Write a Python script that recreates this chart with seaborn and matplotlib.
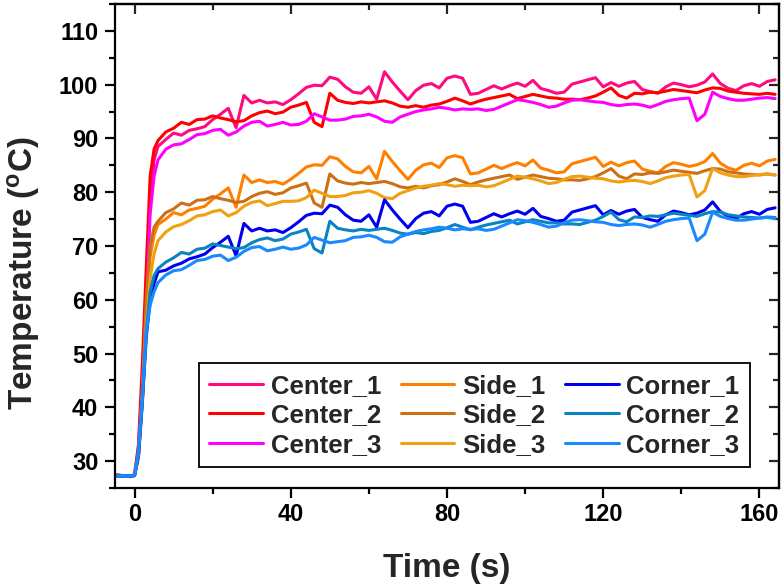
import matplotlib
matplotlib.use("Agg")
import matplotlib.pyplot as plt
from matplotlib.lines import Line2D
from matplotlib.ticker import MultipleLocator
import pandas as pd
import seaborn as sns

# time axis (s): finer steps through the heating ramp, then every 2 s
time_s = [-5, -3, -1, 0, 1, 2, 3, 4, 5, 6] + list(range(8, 165, 2))

center_1 = [27.5, 27.3, 27.2, 27.4, 32.0, 45.0, 62.0, 78.0, 86.0, 88.5,
            89.8, 91.0, 90.6, 91.5, 91.8, 92.2, 93.5, 94.5, 95.6, 92.0,
            98.0, 96.6, 97.1, 96.6, 96.8, 96.3, 97.2, 98.3, 99.5, 99.9,
            99.8, 101.4, 101.0, 99.6, 98.6, 98.4, 99.6, 97.3, 102.4, 100.5,
            98.8, 97.2, 98.9, 99.9, 100.2, 99.4, 101.2, 101.6, 101.2, 98.2,
            98.4, 99.1, 99.8, 99.2, 99.8, 100.3, 99.7, 100.8, 99.3, 98.9,
            98.4, 98.6, 100.1, 100.5, 100.9, 101.3, 99.6, 100.4, 99.7, 100.3,
            100.6, 99.1, 98.7, 98.4, 99.6, 100.3, 100.0, 99.6, 99.9, 100.5,
            102.0, 100.2, 99.3, 98.9, 99.8, 100.2, 99.7, 100.6, 100.9]
center_2 = [27.4, 27.3, 27.2, 27.5, 33.0, 48.0, 66.0, 83.0, 88.0, 89.6,
            91.2, 91.9, 93.0, 92.6, 93.5, 93.6, 94.2, 93.8, 93.5, 93.1,
            93.3, 94.2, 94.8, 95.1, 94.6, 94.9, 95.8, 96.2, 96.7, 93.0,
            92.2, 98.4, 97.1, 96.7, 96.5, 96.8, 96.6, 96.8, 97.0, 96.6,
            96.0, 95.8, 96.1, 95.8, 96.2, 96.4, 96.9, 97.5, 97.0, 96.4,
            96.9, 97.3, 97.6, 97.9, 98.2, 97.4, 97.8, 98.2, 97.9, 97.6,
            97.5, 97.3, 97.3, 97.2, 97.5, 97.9, 98.6, 99.4, 98.0, 97.5,
            98.4, 98.3, 98.6, 98.5, 98.8, 99.1, 98.9, 98.7, 98.5, 99.0,
            99.4, 99.3, 98.8, 98.6, 98.4, 98.3, 98.2, 98.4, 98.2]
center_3 = [27.3, 27.2, 27.2, 27.4, 31.0, 43.0, 58.0, 76.0, 83.0, 86.0,
            88.0, 88.8, 89.0, 89.8, 90.7, 90.9, 91.5, 91.7, 90.6, 91.2,
            92.3, 93.0, 93.2, 92.3, 92.6, 93.0, 92.5, 92.6, 93.2, 94.6,
            94.0, 93.4, 93.4, 93.6, 94.1, 94.2, 94.5, 94.0, 93.2, 93.0,
            94.0, 94.5, 95.0, 95.3, 95.5, 95.8, 95.6, 95.3, 95.5, 95.4,
            95.5, 95.2, 95.4, 96.0, 96.6, 97.2, 97.0, 96.7, 96.3, 95.8,
            96.0, 96.6, 97.1, 97.2, 97.0, 96.8, 96.7, 96.3, 96.1, 96.3,
            96.4, 96.2, 95.8, 96.3, 96.9, 97.2, 97.4, 97.5, 93.3, 94.5,
            98.6, 97.8, 97.4, 97.1, 97.1, 97.3, 97.5, 97.6, 97.4]
side_1 = [27.4, 27.2, 27.1, 27.3, 31.0, 42.0, 57.0, 68.0, 72.0, 74.0,
          75.0, 76.2, 75.8, 76.7, 77.0, 77.4, 78.7, 79.7, 80.8, 77.2,
          83.2, 81.8, 82.3, 81.8, 82.0, 81.5, 82.4, 83.5, 84.7, 85.1,
          85.0, 86.6, 86.2, 84.8, 83.8, 83.6, 84.8, 82.5, 87.6, 85.7,
          84.0, 82.4, 84.1, 85.1, 85.4, 84.6, 86.4, 86.8, 86.4, 83.4,
          83.6, 84.3, 85.0, 84.4, 85.0, 85.5, 84.9, 86.0, 84.5, 84.1,
          83.6, 83.8, 85.3, 85.7, 86.1, 86.5, 84.8, 85.6, 84.9, 85.5,
          85.8, 84.3, 83.9, 83.6, 84.8, 85.5, 85.2, 84.8, 85.1, 85.7,
          87.2, 85.4, 84.5, 84.1, 85.0, 85.4, 84.9, 85.8, 86.1]
side_2 = [27.3, 27.2, 27.2, 27.4, 31.0, 43.0, 60.0, 70.0, 73.5, 74.6,
          76.2, 76.9, 78.0, 77.6, 78.5, 78.6, 79.2, 78.8, 78.5, 78.1,
          78.3, 79.2, 79.8, 80.1, 79.6, 79.9, 80.8, 81.2, 81.7, 78.0,
          77.2, 83.4, 82.1, 81.7, 81.5, 81.8, 81.6, 81.8, 82.0, 81.6,
          81.0, 80.8, 81.1, 80.8, 81.2, 81.4, 81.9, 82.5, 82.0, 81.4,
          81.9, 82.3, 82.6, 82.9, 83.2, 82.4, 82.8, 83.2, 82.9, 82.6,
          82.5, 82.3, 82.3, 82.2, 82.5, 82.9, 83.6, 84.4, 83.0, 82.5,
          83.4, 83.3, 83.6, 83.5, 83.8, 84.1, 83.9, 83.7, 83.5, 84.0,
          84.4, 84.3, 83.8, 83.6, 83.4, 83.3, 83.2, 83.4, 83.2]
side_3 = [27.3, 27.2, 27.1, 27.4, 30.5, 41.0, 55.0, 64.0, 68.5, 71.0,
          72.6, 73.6, 74.0, 74.7, 75.6, 75.8, 76.4, 76.7, 75.6, 76.2,
          77.4, 78.1, 78.4, 77.5, 77.9, 78.3, 78.3, 78.4, 79.0, 80.4,
          79.8, 79.2, 79.2, 79.4, 79.9, 80.0, 80.3, 79.8, 79.0, 78.8,
          79.8, 80.3, 80.8, 81.1, 81.3, 81.6, 81.4, 81.1, 81.3, 81.2,
          81.3, 81.0, 81.2, 81.8, 82.4, 83.0, 82.8, 82.5, 82.1, 81.6,
          81.8, 82.4, 82.9, 83.0, 82.8, 82.6, 82.5, 82.1, 81.9, 82.1,
          82.2, 82.0, 81.6, 82.1, 82.7, 83.0, 83.2, 83.3, 79.1, 80.3,
          84.4, 83.6, 83.2, 82.9, 82.9, 83.1, 83.3, 83.4, 83.2]
corner_1 = [27.3, 27.2, 27.2, 27.3, 31.0, 41.0, 53.0, 60.0, 63.0, 65.2,
            65.5, 66.3, 66.8, 67.6, 68.0, 68.5, 69.7, 70.7, 71.8, 68.2,
            74.2, 72.8, 73.3, 72.8, 73.0, 72.5, 73.4, 74.5, 75.7, 76.1,
            76.0, 77.6, 77.2, 75.8, 74.8, 74.6, 75.8, 73.5, 78.6, 76.7,
            75.0, 73.4, 75.1, 76.1, 76.4, 75.6, 77.4, 77.8, 77.4, 74.4,
            74.6, 75.3, 76.0, 75.4, 76.0, 76.5, 75.9, 77.0, 75.5, 75.1,
            74.6, 74.8, 76.3, 76.7, 77.1, 77.5, 75.8, 76.6, 75.9, 76.5,
            76.8, 75.3, 74.9, 74.6, 75.8, 76.5, 76.2, 75.8, 76.1, 76.7,
            78.2, 76.4, 75.5, 75.1, 76.0, 76.4, 75.9, 76.8, 77.1]
corner_2 = [27.4, 27.3, 27.2, 27.4, 31.0, 41.0, 54.0, 61.5, 64.5, 65.8,
            67.0, 67.8, 68.8, 68.5, 69.4, 69.6, 70.4, 70.1, 69.8, 69.5,
            69.7, 70.6, 71.2, 71.5, 71.0, 71.3, 72.2, 72.6, 73.1, 69.5,
            68.7, 74.6, 73.3, 73.0, 72.8, 73.1, 72.9, 73.1, 73.3, 72.9,
            72.4, 72.2, 72.5, 72.3, 72.7, 72.9, 73.4, 74.0, 73.5, 73.0,
            73.5, 73.9, 74.2, 74.5, 74.8, 74.1, 74.5, 74.9, 74.6, 74.3,
            74.3, 74.1, 74.1, 74.0, 74.4, 74.8, 75.5, 76.3, 74.9, 74.5,
            75.4, 75.3, 75.6, 75.5, 75.8, 76.1, 75.9, 75.7, 75.5, 76.0,
            76.4, 76.3, 75.8, 75.6, 75.4, 75.3, 75.2, 75.4, 75.3]
corner_3 = [27.3, 27.2, 27.2, 27.3, 32.0, 42.0, 54.0, 59.0, 61.5, 63.2,
            64.6, 65.4, 65.6, 66.4, 67.3, 67.5, 68.1, 68.3, 67.3, 67.9,
            69.0, 69.7, 69.9, 69.1, 69.4, 69.8, 69.4, 69.6, 70.2, 71.6,
            71.1, 70.6, 70.8, 71.0, 71.6, 71.7, 72.0, 71.6, 70.8, 70.7,
            71.7, 72.2, 72.7, 73.0, 73.2, 73.5, 73.3, 73.0, 73.2, 73.1,
            73.2, 72.9, 73.1, 73.7, 74.3, 74.9, 74.7, 74.4, 74.0, 73.5,
            73.7, 74.3, 74.8, 74.9, 74.7, 74.5, 74.4, 74.0, 73.8, 74.0,
            74.1, 73.9, 73.5, 74.0, 74.6, 74.9, 75.1, 75.2, 71.0, 72.2,
            76.3, 75.5, 75.1, 74.8, 74.8, 75.0, 75.2, 75.3, 75.1]

series = {
    "Center_1": center_1, "Center_2": center_2, "Center_3": center_3,
    "Side_1": side_1, "Side_2": side_2, "Side_3": side_3,
    "Corner_1": corner_1, "Corner_2": corner_2, "Corner_3": corner_3,
}
colors = {
    "Center_1": "#FF0A7F", "Center_2": "#FF0000", "Center_3": "#FF00FF",
    "Side_1": "#FF8000", "Side_2": "#CC7018", "Side_3": "#F0A010",
    "Corner_1": "#0000F0", "Corner_2": "#0A84C0", "Corner_3": "#1A88FF",
}
order = list(series.keys())

df = pd.concat(
    [pd.DataFrame({"Time": time_s, "Temperature": v, "Probe": k}) for k, v in series.items()],
    ignore_index=True,
)

sns.set_style("ticks")
plt.rcParams["font.family"] = ["Liberation Sans", "DejaVu Sans"]
plt.rcParams["font.weight"] = "bold"
plt.rcParams["mathtext.fontset"] = "custom"
plt.rcParams["mathtext.bf"] = "Liberation Sans:bold"
plt.rcParams["mathtext.rm"] = "Liberation Sans:bold"

fig = plt.figure(figsize=(7.81, 5.86), dpi=100)
ax = fig.add_axes([115 / 781, 1 - 488 / 586, 664 / 781, 484 / 586])

sns.lineplot(data=df, x="Time", y="Temperature", hue="Probe", hue_order=order,
             palette=colors, linewidth=2.2, errorbar=None, legend=False, ax=ax)

ax.set_xlim(-5, 165)
ax.set_ylim(25, 115)
ax.xaxis.set_major_locator(MultipleLocator(40))
ax.xaxis.set_minor_locator(MultipleLocator(20))
ax.yaxis.set_minor_locator(MultipleLocator(5))
ax.set_yticks(range(30, 111, 10))

for s in ax.spines.values():
    s.set_linewidth(1.6)
    s.set_color("black")
ax.tick_params(which="both", direction="out", width=1.6, colors="black",
               labelsize=17, top=False, right=False)
ax.tick_params(which="major", length=7)
ax.tick_params(which="minor", length=4)
ax.tick_params(axis="y", pad=5)

# inward ticks on top and right frame
top = ax.secondary_xaxis("top")
top.xaxis.set_major_locator(MultipleLocator(40))
top.xaxis.set_minor_locator(MultipleLocator(20))
top.tick_params(which="both", direction="in", width=1.6, labeltop=False)
top.tick_params(which="major", length=7)
top.tick_params(which="minor", length=4)
right = ax.secondary_yaxis("right")
right.yaxis.set_major_locator(MultipleLocator(10))
right.yaxis.set_minor_locator(MultipleLocator(5))
right.tick_params(which="both", direction="in", width=1.6, labelright=False)
right.tick_params(which="major", length=7)
right.tick_params(which="minor", length=4)
for sa in (top, right):
    for s in sa.spines.values():
        s.set_linewidth(1.6)

ax.set_xlabel("Time (s)", fontsize=24, fontweight="bold", labelpad=20)
ax.set_ylabel(r"Temperature ($\mathbf{^{o}}$C)", fontsize=24, fontweight="bold")
ax.yaxis.set_label_coords(-0.110, 0.444)

handles = [Line2D([0], [0], color=colors[k], lw=2.2) for k in order]
leg = ax.legend(handles, order, ncol=3, loc="lower right", bbox_to_anchor=(0.956, 0.043),
                borderaxespad=0, frameon=True, fancybox=False, framealpha=1,
                edgecolor="black", handlelength=2.1, handletextpad=0.3,
                columnspacing=0.75, labelspacing=0.22, borderpad=0.4,
                prop={"weight": "bold", "size": 18.5})
leg.get_frame().set_linewidth(1.3)

fig.savefig("out.png", dpi=100)
